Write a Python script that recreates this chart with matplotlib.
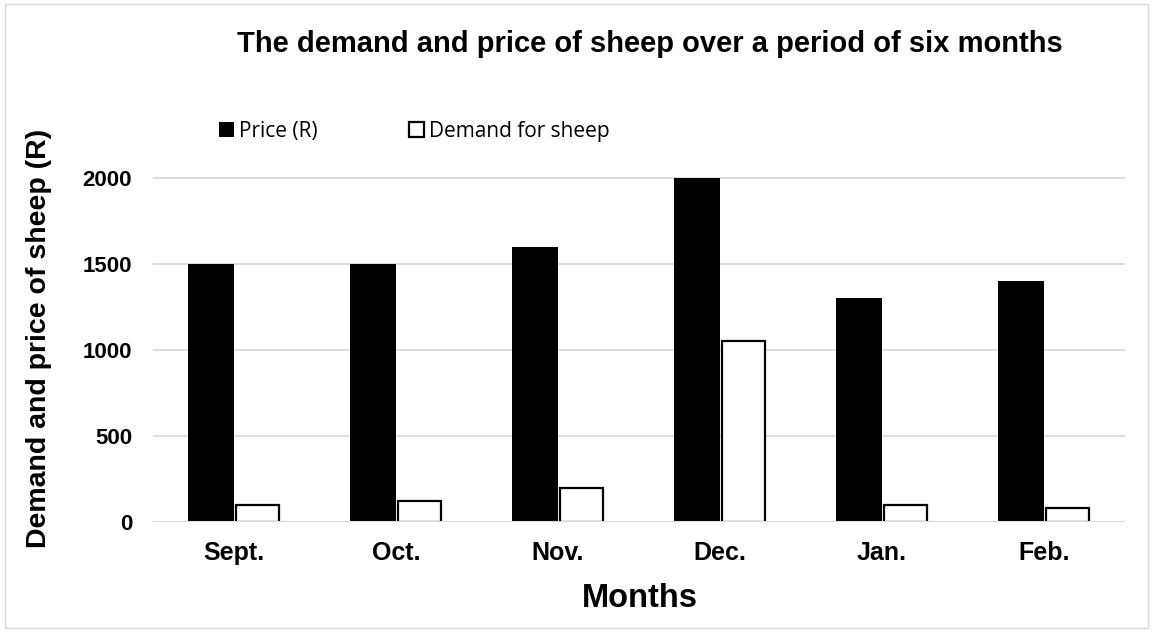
import matplotlib
matplotlib.use("Agg")
import matplotlib.pyplot as plt
import numpy as np
from matplotlib.patches import Rectangle

months = ["Sept.", "Oct.", "Nov.", "Dec.", "Jan.", "Feb."]
price = [1500, 1500, 1600, 2000, 1300, 1400]
demand = [100, 120, 200, 1050, 100, 80]
yticks = [0, 500, 1000, 1500, 2000]

W, H = 1153, 632
fig = plt.figure(figsize=(W / 100, H / 100), dpi=100)
fig.patch.set_facecolor("white")
fig.patches.append(Rectangle((0.004, 0.006), 0.992, 0.988, transform=fig.transFigure,
                             fill=False, edgecolor="#d9d9d9", linewidth=1))

ax = fig.add_axes([153 / W, 1 - 522 / H, 972 / W, (522 - 150) / H])
x = np.arange(len(months))
bw = 0.284
ax.bar(x - bw / 2, price, bw, color="black", edgecolor="black", linewidth=0, label="Price (R)", zorder=3)
ax.bar(x + bw / 2 + 0.005, demand, bw * 0.94, color="white", edgecolor="black", linewidth=1.6,
       label="Demand for sheep", zorder=3)

ax.set_xlim(-0.5, len(months) - 0.5)
ax.set_ylim(0, 2000 * (522 - 150) / (522 - 178))
ax.set_yticks(yticks)
ax.set_yticklabels([str(v) for v in yticks], fontsize=16, fontweight="bold", family="Liberation Sans")
ax.set_xticks(x)
ax.set_xticklabels(months, fontsize=18, fontweight="bold", family="Liberation Sans")
ax.tick_params(axis="both", length=0)
ax.tick_params(axis="y", pad=15)
ax.tick_params(axis="x", pad=14)
ax.grid(axis="y", color="#d9d9d9", linewidth=1.2, zorder=0)
ax.set_axisbelow(True)
for s in ax.spines.values():
    s.set_visible(False)
ax.axhline(0, color="#d9d9d9", linewidth=1.5, zorder=4)

fig.text(640 / W, 1 - 607 / H, "Months", ha="center", va="baseline",
         fontsize=23.5, fontweight="bold", family="Liberation Sans")
fig.text(39 / W, 1 - 338 / H, "Demand and price of sheep (R)", rotation=90, ha="center", va="center",
         fontsize=20.5, fontweight="bold", family="Liberation Sans")
fig.text(650 / W, 1 - 52 / H, "The demand and price of sheep over a period of six months",
         ha="center", va="baseline", fontsize=21, fontweight="bold", family="Liberation Sans")

leg = fig.legend(loc="center left", bbox_to_anchor=(219 / W, 1 - 131 / H), ncol=2, frameon=False,
                 prop={"family": "Open Sans", "size": 15}, handlelength=0.7, handleheight=0.7,
                 handletextpad=0.25, columnspacing=4.4, borderpad=0, borderaxespad=0)

fig.savefig("out.png", dpi=100, facecolor="white")
